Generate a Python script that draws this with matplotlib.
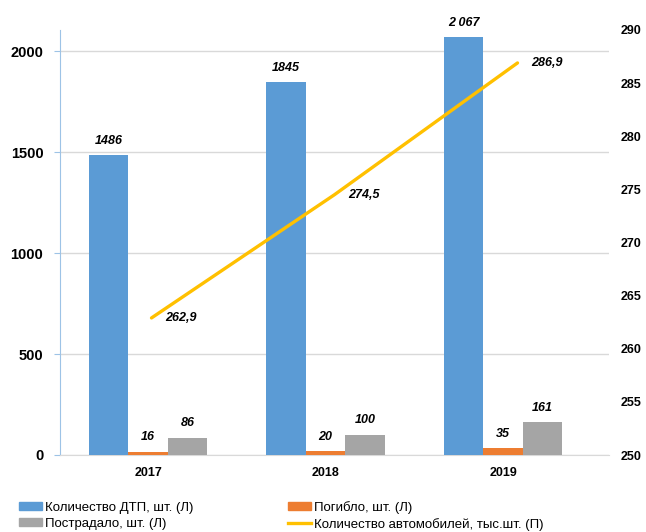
import numpy as np
import matplotlib
matplotlib.use('Agg')
import matplotlib.pyplot as plt
from matplotlib.lines import Line2D
from matplotlib.patches import Patch

plt.rcParams['font.family'] = ['Liberation Sans', 'DejaVu Sans']

# данные
years = ['2017', '2018', '2019']
dtp = [1486, 1845, 2067]
dtp_labels = ['1486', '1845', '2 067']
pogiblo = [16, 20, 35]
postradalo = [86, 100, 161]
avto = [262.9, 274.5, 286.9]
avto_labels = ['262,9', '274,5', '286,9']

c_blue = '#5B9BD5'
c_orange = '#ED7D31'
c_gray = '#A5A5A5'
c_yellow = '#FFC000'

W, H = 646, 532
fig = plt.figure(figsize=(W / 100, H / 100), dpi=100)
rect = [60 / W, 77 / H, 549 / W, 425 / H]

# столбцы (левая ось)
ax = fig.add_axes(rect)
x = np.arange(len(years))
bw = 0.2225
ax.bar(x - bw, dtp, bw, color=c_blue, zorder=3)
ax.bar(x, pogiblo, bw, color=c_orange, zorder=3)
ax.bar(x + bw, postradalo, bw, color=c_gray, zorder=3)
ax.set_xlim(-0.496, 2.597)
ax.set_ylim(0, 2104)
ax.set_yticks([0, 500, 1000, 1500, 2000])
ax.set_yticklabels(['0', '500', '1000', '1500', '2000'], fontsize=10.5, fontweight='bold')
ax.set_xticks(x)
ax.set_xticklabels(years, fontsize=9, fontweight='bold')
ax.tick_params(axis='x', length=0, pad=9)
ax.tick_params(axis='y', length=4, color='#9DC3E6', pad=8)
ax.yaxis.grid(True, color='#D9D9D9', lw=1, zorder=0)
for s in ['top', 'right']:
    ax.spines[s].set_visible(False)
ax.spines['left'].set_color('#9DC3E6')
ax.spines['bottom'].set_color('#D9D9D9')

lab_kw = dict(textcoords='offset points', ha='center', va='bottom',
              fontsize=9, fontweight='bold', fontstyle='italic')
for i in range(len(years)):
    ax.annotate(dtp_labels[i], (x[i] - bw, dtp[i]), xytext=(0, 6), **lab_kw)
    ax.annotate(str(pogiblo[i]), (x[i], pogiblo[i]), xytext=(0, 6), **lab_kw)
    ax.annotate(str(postradalo[i]), (x[i] + bw, postradalo[i]), xytext=(0, 6), **lab_kw)

# линия (правая ось)
ax2 = fig.add_axes(rect, frameon=False)
ax2.plot(x, avto, color=c_yellow, lw=2.4, solid_capstyle='round', zorder=4)
ax2.set_xlim(-0.5, 2.5)
ax2.set_ylim(250, 290)
ax2.set_xticks([])
ax2.yaxis.tick_right()
ax2.set_yticks(np.arange(250, 291, 5))
ax2.set_yticklabels([str(v) for v in range(250, 291, 5)], fontsize=9, fontweight='bold')
ax2.tick_params(axis='y', length=0, pad=8.5)
for i in range(len(years)):
    ax2.annotate(avto_labels[i], (x[i], avto[i]), xytext=(10, 0), textcoords='offset points',
                 ha='left', va='center', fontsize=9, fontweight='bold', fontstyle='italic')

handles = [Patch(color=c_blue), Patch(color=c_gray), Patch(color=c_orange),
           Line2D([], [], color=c_yellow, lw=2.4)]
names = ['Количество ДТП, шт. (Л)', 'Пострадало, шт. (Л)', 'Погибло, шт. (Л)',
         'Количество автомобилей, тыс.шт. (П)']
fig.legend(handles, names, ncol=2, loc='lower left', bbox_to_anchor=(14 / W, -4 / H),
           frameon=False, fontsize=9.5, handlelength=1.7, handleheight=0.6,
           handletextpad=0.25, columnspacing=7.2, labelspacing=0.3, borderaxespad=0.0)

fig.savefig('out.png', dpi=100)
